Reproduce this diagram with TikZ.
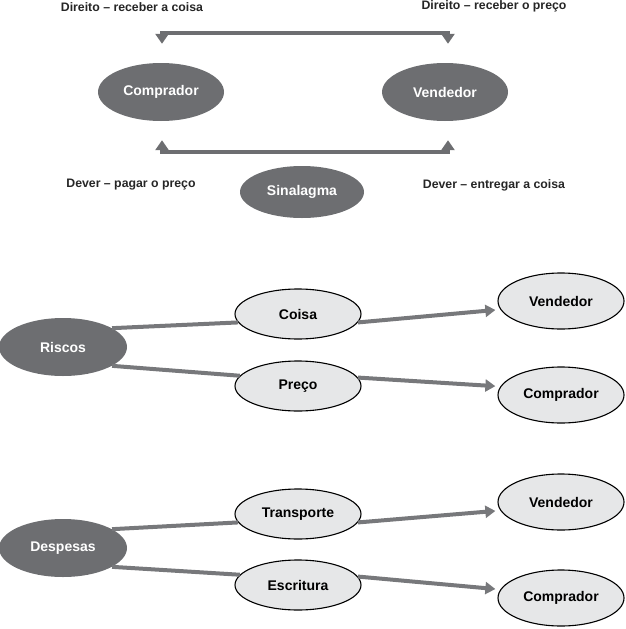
\documentclass[tikz,border=0pt]{standalone}
\usepackage{fontspec}
\setmainfont{Liberation Sans}
\usetikzlibrary{shapes.geometric,arrows.meta}
\definecolor{darkg}{HTML}{6D6E71}
\definecolor{lightg}{HTML}{E6E7E8}
\definecolor{lineg}{HTML}{77787B}
\begin{document}
\begin{tikzpicture}[x=1pt,y=-1pt,
  darkell/.style={ellipse, fill=darkg, text=white, inner sep=0pt, font=\bfseries\fontsize{14}{16}\selectfont},
  lightell/.style={ellipse, fill=lightg, draw=black, line width=1.1pt, inner sep=0pt, font=\bfseries\fontsize{14}{16}\selectfont},
  lab/.style={inner sep=0pt, font=\bfseries\fontsize{12.3}{14}\selectfont, text=black!85},
  bar/.style={draw=darkg, line width=4pt, {Triangle[length=10pt,width=13pt]}-{Triangle[length=10pt,width=13pt]}},
  link/.style={draw=lineg, line width=4pt},
  arr/.style={link, -{Triangle[length=10pt,width=12pt]}, shorten >=5pt}
]
\useasboundingbox (0,0) rectangle (626,629);

% top section
\node[darkell, minimum width=126pt, minimum height=58pt] (comp) at (161,92) {Comprador};
\node[darkell, minimum width=126pt, minimum height=58pt] (vend) at (445,92) {Vendedor};
\node[darkell, minimum width=124pt, minimum height=52pt] (sin) at (302,192) {Sinalagma};
\node[lab] (l1) at (132,7) {Direito – receber a coisa};
\node[lab] (l2) at (494,6) {Direito – receber o preço};
\node[lab] (l3) at (131,185) {Dever – pagar o preço};
\node[lab] (l4) at (494,185) {Dever – entregar a coisa};

\draw[bar] ([xshift=1pt,yshift=19pt]comp.north) -- ++(0,-11) -| ([xshift=3pt,yshift=19pt]vend.north);
\draw[bar] ([xshift=1pt,yshift=-19pt]comp.south) -- ++(0,12) -| ([xshift=3pt,yshift=-19pt]vend.south);

% riscos section
\node[darkell, minimum width=128pt, minimum height=58pt] (ris) at (63,347) {Riscos};
\node[lightell, minimum width=126pt, minimum height=50pt] (coisa) at (298,314) {Coisa};
\node[lightell, minimum width=126pt, minimum height=50pt] (preco) at (298,386) {Preço};
\node[lightell, minimum width=126pt, minimum height=56pt] (v1) at (561,301) {Vendedor};
\node[lightell, minimum width=126pt, minimum height=56pt] (c1) at (561,395) {Comprador};

\draw[link] (ris.21) -- (coisa.188);
\draw[link] (ris.-21) -- (preco.170);
\draw[arr] (coisa.-8) -- (v1.188);
\draw[arr] (preco.8) -- (c1.172);

% despesas section
\node[darkell, minimum width=128pt, minimum height=58pt] (desp) at (63,548) {Despesas};
\node[lightell, minimum width=126pt, minimum height=50pt] (trans) at (298,514) {Transporte};
\node[lightell, minimum width=126pt, minimum height=50pt] (escr) at (298,585) {Escritura};
\node[lightell, minimum width=126pt, minimum height=56pt] (v2) at (561,502) {Vendedor};
\node[lightell, minimum width=126pt, minimum height=56pt] (c2) at (561,598) {Comprador};

\draw[link] (desp.21) -- (trans.188);
\draw[link] (desp.-21) -- (escr.170);
\draw[arr] (trans.-8) -- (v2.188);
\draw[arr] (escr.8) -- (c2.172);
\end{tikzpicture}
\end{document}
